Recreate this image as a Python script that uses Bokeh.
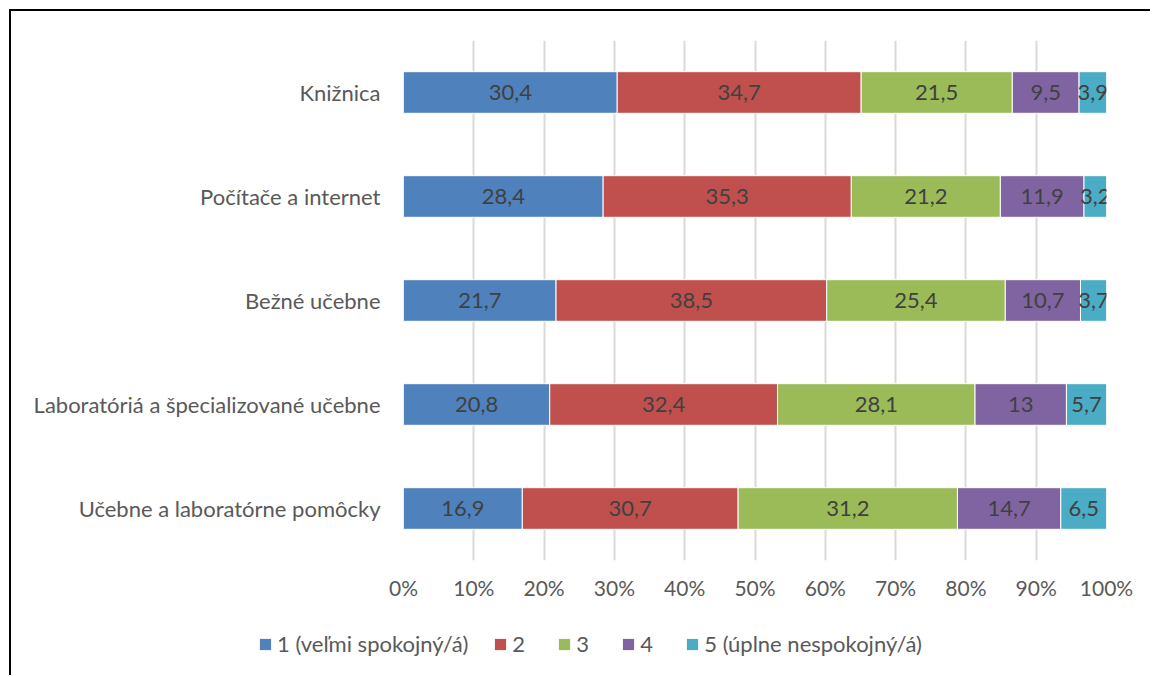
from bokeh.plotting import figure
from bokeh.models import (ColumnDataSource, FactorRange, Range1d, Legend, LegendItem,
                          FixedTicker, CustomJSTickFormatter)
from bokeh.core.properties import value
from bokeh.embed import file_html
from bokeh.resources import INLINE

categories = ["Knižnica", "Počítače a internet", "Bežné učebne",
              "Laboratóriá a špecializované učebne", "Učebne a laboratórne pomôcky"]
series_names = ["1 (veľmi spokojný/á)", "2", "3", "4", "5 (úplne nespokojný/á)"]
s1 = [30.4, 28.4, 21.7, 20.8, 16.9]
s2 = [34.7, 35.3, 38.5, 32.4, 30.7]
s3 = [21.5, 21.2, 25.4, 28.1, 31.2]
s4 = [9.5, 11.9, 10.7, 13.0, 14.7]
s5 = [3.9, 3.2, 3.7, 5.7, 6.5]
colors = ["#4F81BD", "#C0504D", "#9BBB59", "#8064A2", "#4BACC6"]
x_ticks = [0, 10, 20, 30, 40, 50, 60, 70, 80, 90, 100]

FONT = "Lato"
series = [s1, s2, s3, s4, s5]
keys = ["s1", "s2", "s3", "s4", "s5"]

# normalise to 100 %
totals = [sum(v[i] for v in series) for i in range(len(categories))]
data = {"cat": categories}
for k, v in zip(keys, series):
    data[k] = [v[i] / totals[i] * 100 for i in range(len(categories))]
src = ColumnDataSource(data)

W = 1141
p = figure(width=W, height=604, output_backend="svg", toolbar_location=None,
           y_range=FactorRange(*reversed(categories)), x_range=Range1d(0, 100),
           min_border_left=392, min_border_right=46, min_border_top=29, min_border_bottom=55)
p.styles = {"border-left": "2px solid #000000", "border-top": "2px solid #000000",
            "margin-left": "9px", "margin-top": "9px"}
p.outline_line_color = None
p.background_fill_color = "white"

renderers = p.hbar_stack(keys, y="cat", height=0.4, color=colors, source=src,
                         line_color="white", line_width=1)

# data labels
lx, ly, lt = [], [], []
for i, c in enumerate(categories):
    cum = 0.0
    for k, v in zip(keys, series):
        w = data[k][i]
        lx.append(cum + w / 2)
        ly.append(c)
        lt.append(("%g" % v[i]).replace(".", ","))
        cum += w
p.text(x=lx, y=ly, text=lt, text_align="center", text_baseline="middle",
       text_color="#404040", text_font=value(FONT), text_font_size="22px")

# axes
p.xaxis.ticker = FixedTicker(ticks=x_ticks)
p.xaxis.formatter = CustomJSTickFormatter(code="return tick.toFixed(0) + '%';")
p.xaxis.axis_line_color = None
p.xaxis.major_tick_line_color = None
p.xaxis.major_tick_in = 0
p.xaxis.major_tick_out = 0
p.xaxis.minor_tick_line_color = None
p.xaxis.major_label_text_font = FONT
p.xaxis.major_label_text_font_size = "21px"
p.xaxis.major_label_text_color = "#595959"
p.xaxis.major_label_standoff = 14

p.yaxis.axis_line_color = None
p.yaxis.major_tick_line_color = None
p.yaxis.major_tick_in = 0
p.yaxis.major_tick_out = 0
p.yaxis.major_label_text_font = FONT
p.yaxis.major_label_text_font_size = "22px"
p.yaxis.major_label_text_color = "#595959"
p.yaxis.major_label_standoff = 23

p.xgrid.grid_line_color = "#D9D9D9"
p.xgrid.grid_line_width = 2
p.ygrid.grid_line_color = None

# legend strip below the chart (separate root so its frame is not aligned to the chart)
lg = figure(width=W, height=62, output_backend="svg", toolbar_location=None,
            x_range=Range1d(0, 1), y_range=Range1d(0, 1),
            x_axis_type=None, y_axis_type=None,
            min_border_left=0, min_border_right=0, min_border_top=0, min_border_bottom=0)
lg.styles = {"border-left": "2px solid #000000", "margin-left": "9px"}
lg.outline_line_color = None
lg.grid.visible = False
dummy = []
for c in colors:
    dummy.append(lg.rect(x=[-5], y=[-5], width=[0.1], height=[0.1], fill_color=c, line_color=None))
legend = Legend(items=[LegendItem(label=n, renderers=[r]) for n, r in zip(series_names, dummy)],
                orientation="horizontal", location=(247, 18),
                label_text_font=FONT, label_text_font_size="22px", label_text_color="#595959",
                glyph_width=14, glyph_height=14, spacing=25, label_standoff=5,
                border_line_color=None, background_fill_alpha=0, margin=0, padding=0)
lg.add_layout(legend, "center")

open("out.html", "w").write(file_html([p, lg], INLINE))
